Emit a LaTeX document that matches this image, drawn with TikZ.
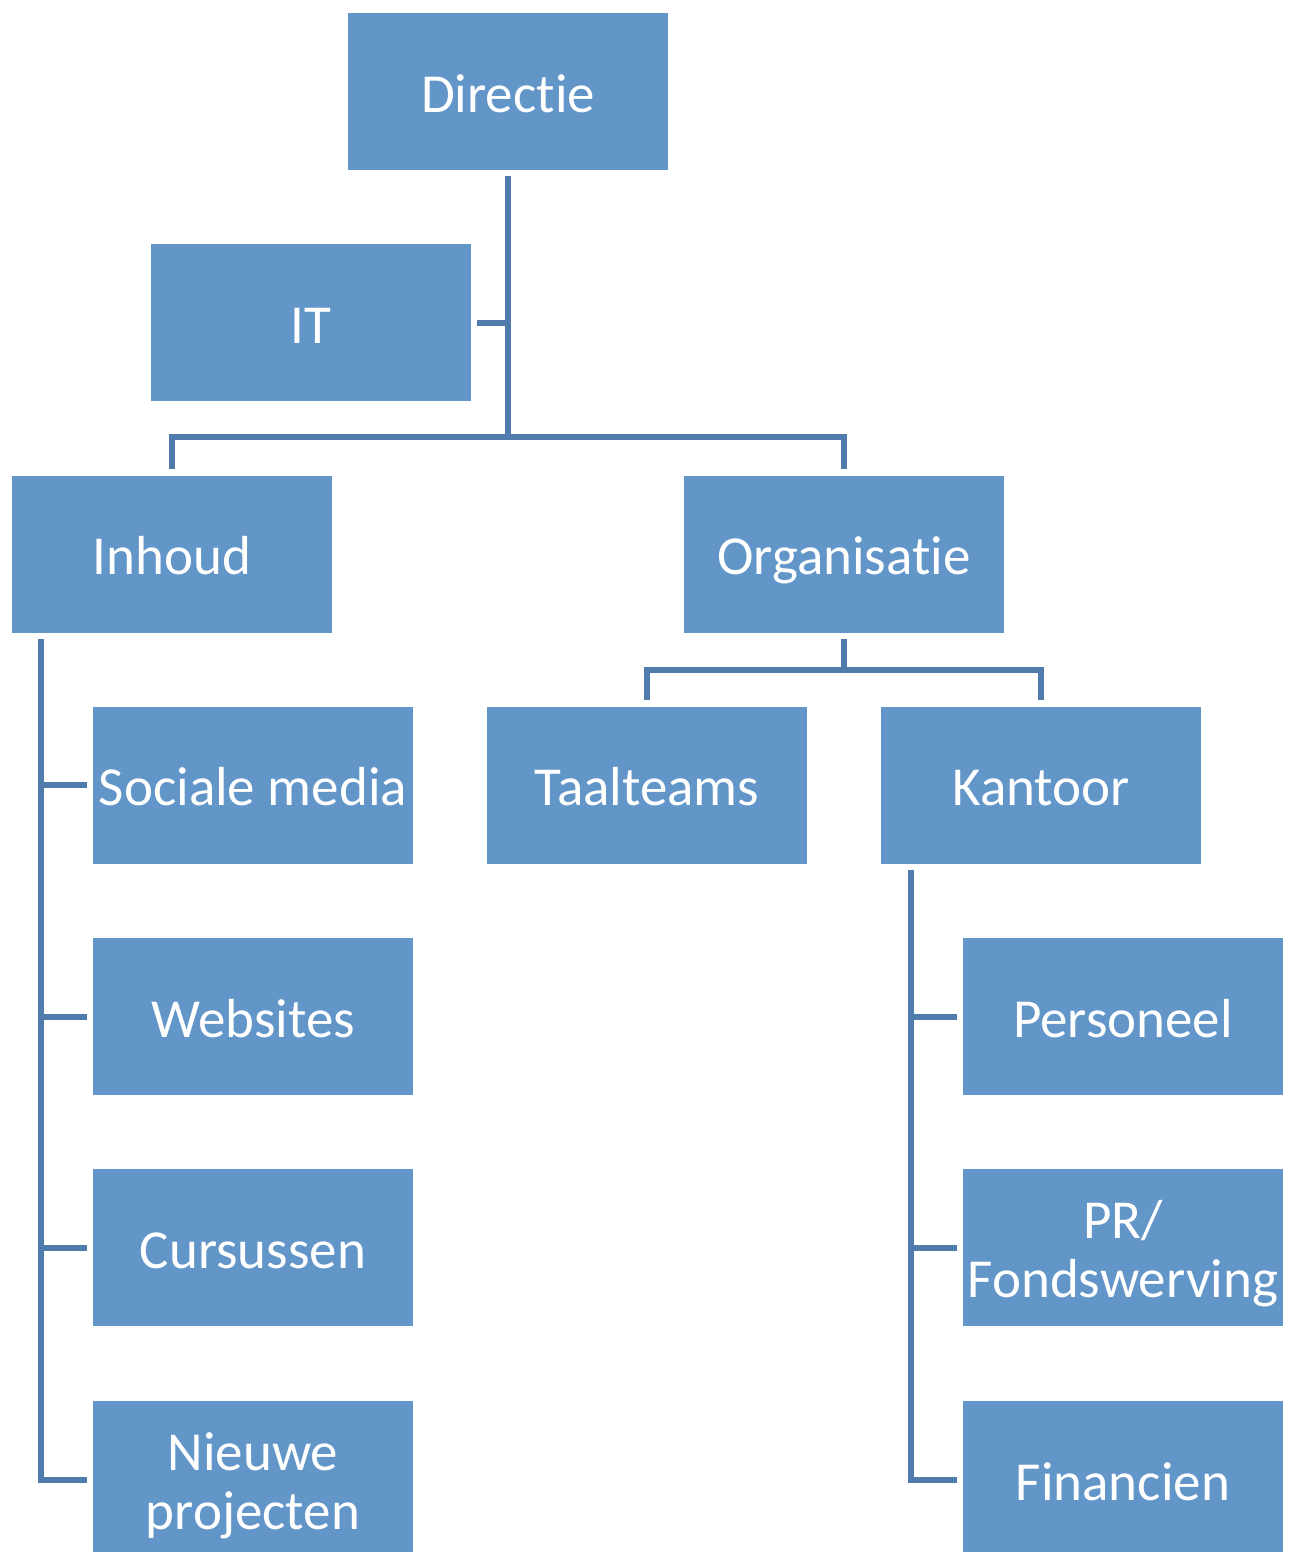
\documentclass[tikz,border=0pt]{standalone}
\usepackage{fontspec}
\setmainfont{Carlito}[RawFeature={-liga;-dlig;-clig;-calt}]
\usetikzlibrary{calc}
\definecolor{boxblue}{HTML}{6295C8}
\definecolor{lineblue}{HTML}{4F7CAC}
\newcommand{\twolines}[2]{\begin{tabular}[b]{@{}c@{}}#1\\#2\end{tabular}}
\tikzset{
  box/.style={fill=boxblue, draw=none, minimum width=320pt, minimum height=157pt,
    inner sep=0pt, text=white, font=\fontsize{55}{59}\selectfont,
    text height=41.4pt, text depth=0pt},
  twobox/.style={box, text height=100.4pt},
  conn/.style={draw=lineblue, line width=6pt, line join=miter}
}
\begin{document}
\begin{tikzpicture}[x=1pt,y=-1pt]
\useasboundingbox (0,0) rectangle (1298,1552);
\begin{scope}
\clip (0,0) rectangle (1298,1552);
\node[box] (dir) at (508,91.5) {Directie};
\node[box] (it) at (311,322.5) {IT};
\node[box] (inh) at (172,554) {Inhoud};
\node[box] (org) at (844,554) {Organisatie};
\node[box] (soc) at (253,785) {Sociale media};
\node[box] (taal) at (647,785) {Taalteams};
\node[box] (kant) at (1041,785) {Kantoor};
\node[box] (web) at (253,1016.5) {Websites};
\node[box] (pers) at (1123,1016.5) {Personeel};
\node[box] (cur) at (253,1247.5) {Cursussen};
\node[twobox] (pr) at (1123,1247.5) {\twolines{PR/}{Fondswerving}};
\node[twobox] (nieuw) at (253,1479.5) {\twolines{Nieuwe}{projecten}};
\node[box] (fin) at (1123,1479.5) {Financien};

% Directie level
\coordinate (dirbus) at ($(dir.south)+(0,267)$);
\draw[conn] ($(dir.south)+(0,6)$) -- (dirbus);
\draw[conn] ($(it.east)+(6,0)$) -- (it.east -| dirbus);
\draw[conn] ($(inh.north)+(0,-6)$) |- (dirbus) -| ($(org.north)+(0,-6)$);

% Organisatie level
\coordinate (orgbus) at ($(org.south)+(0,37)$);
\draw[conn] ($(org.south)+(0,6)$) -- (orgbus);
\draw[conn] ($(taal.north)+(0,-6)$) |- (orgbus) -| ($(kant.north)+(0,-6)$);

% Inhoud trunk
\coordinate (inhtop) at ($(inh.south west)+(29,6)$);
\draw[conn] (inhtop) |- ($(nieuw.west)+(-6,0)$);
\draw[conn] (soc.west -| inhtop) -- ($(soc.west)+(-6,0)$);
\draw[conn] (web.west -| inhtop) -- ($(web.west)+(-6,0)$);
\draw[conn] (cur.west -| inhtop) -- ($(cur.west)+(-6,0)$);

% Kantoor trunk
\coordinate (kanttop) at ($(kant.south west)+(30,6)$);
\draw[conn] (kanttop) |- ($(fin.west)+(-6,0)$);
\draw[conn] (pers.west -| kanttop) -- ($(pers.west)+(-6,0)$);
\draw[conn] (pr.west -| kanttop) -- ($(pr.west)+(-6,0)$);
\end{scope}
\end{tikzpicture}
\end{document}
